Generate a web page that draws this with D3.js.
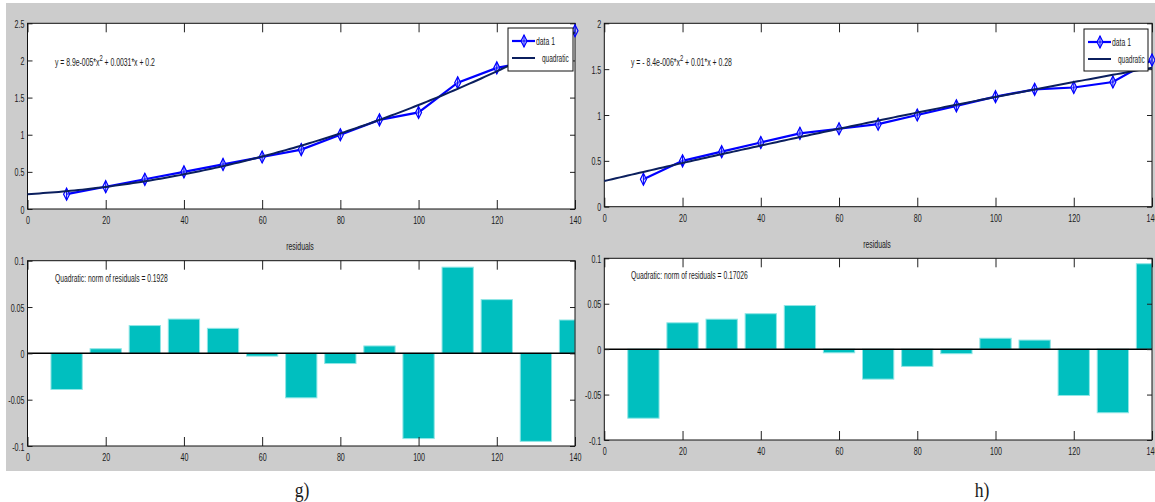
<!DOCTYPE html>
<html>
<head>
<meta charset="utf-8">
<script src="https://cdn.jsdelivr.net/npm/d3@7/dist/d3.min.js"></script>
<style>
  html, body { margin: 0; padding: 0; background: #ffffff; }
  svg { display: block; }
  text { font-family: "Liberation Sans", Arial, sans-serif; fill: #1a1a1a; }
</style>
</head>
<body>
<svg id="chart" width="1155" height="502"></svg>
<script>
// ---- data ----
const xValues = [10, 20, 30, 40, 50, 60, 70, 80, 90, 100, 110, 120, 130, 140];

const dataG = [0.2, 0.3, 0.4, 0.5, 0.6, 0.7, 0.8, 1.0, 1.2, 1.3, 1.7, 1.9, 2.0, 2.4];
const residG = [-0.039, 0.005, 0.030, 0.037, 0.027, -0.003, -0.048, -0.011, 0.008, -0.092, 0.093, 0.058, -0.095, 0.036];
const coefG = [8.9e-5, 0.0031, 0.2];          // quadratic fit: a*x^2 + b*x + c
const eqG = ["y = 8.9e-005*x", "2", " + 0.0031*x + 0.2"];
const normG = "Quadratic: norm of residuals = 0.1928";

const dataH = [0.3, 0.5, 0.6, 0.7, 0.8, 0.85, 0.9, 1.0, 1.1, 1.2, 1.28, 1.3, 1.36, 1.6];
const residH = [-0.076, 0.029, 0.033, 0.039, 0.048, -0.004, -0.033, -0.019, -0.005, 0.012, 0.010, -0.051, -0.070, 0.094];
const coefH = [-8.4e-6, 0.01, 0.28];
const eqH = ["y = - 8.4e-006*x", "2", " + 0.01*x + 0.28"];
const normH = "Quadratic: norm of residuals = 0.17026";

const xTicks = [0, 20, 40, 60, 80, 100, 120, 140];
const yTicksG = [0, 0.5, 1, 1.5, 2, 2.5];
const yTicksH = [0, 0.5, 1, 1.5, 2];
const resTicks = [-0.1, -0.05, 0, 0.05, 0.1];
const legendLabels = ["data 1", "quadratic"];
const captions = ["g)", "h)"];

// ---- drawing ----
const svg = d3.select("#chart");
const NARROW = 0.62;
const BLUE = "#0000ff";
const FIT = "#0b1f5e";
const BAR = "#00bfbf";

svg.append("rect").attr("x", 6).attr("y", 3).attr("width", 1149).attr("height", 468).attr("fill", "#cccccc");

function narrowText(parent, x, y, parts, opt) {
  const g = parent.append("g").attr("transform", `translate(${x},${y})`);
  const t = g.append("text")
    .attr("font-size", opt.size || 11)
    .attr("text-anchor", opt.anchor || "start")
    .attr("dominant-baseline", "central");
  if (typeof parts === "string") {
    t.text(parts);
  } else {
    t.append("tspan").text(parts[0]);
    t.append("tspan").attr("font-size", (opt.size || 11) * 0.85).attr("dy", -5).text(parts[1]);
    t.append("tspan").attr("dy", 5).text(parts[2]);
  }
  let k = opt.k || NARROW;
  if (opt.width) {
    const w = t.node().getBBox().width;
    k = opt.width / w;
  }
  t.attr("transform", `scale(${k},1)`);
  return g;
}

function styleAxis(g, side) {
  g.select(".domain").remove();
  g.selectAll(".tick line").attr("stroke", "#222").attr("stroke-width", 1);
  const txt = g.selectAll(".tick text")
    .attr("font-size", 11.5)
    .attr("fill", "#222")
    .attr("font-family", "Liberation Sans, Arial, sans-serif");
  if (side === "bottom") {
    txt.attr("y", 11).attr("dy", "0.35em").attr("transform", `scale(${NARROW},1)`);
  } else if (side === "left") {
    txt.attr("x", -3 / NARROW).attr("dy", "0.35em").attr("text-anchor", "end")
      .attr("transform", `scale(${NARROW},1)`);
  } else {
    txt.remove();
  }
}

function frame(box, xScale, yScale, yTicks, xTickLen, yTickLen) {
  const g = svg.append("g");
  const fmt = v => String(v);
  g.append("g").attr("transform", `translate(0,${box.y1})`)
    .call(d3.axisBottom(xScale).tickValues(xTicks).tickSize(-xTickLen).tickFormat(fmt))
    .call(a => styleAxis(a, "bottom"));
  g.append("g").attr("transform", `translate(0,${box.y0})`)
    .call(d3.axisTop(xScale).tickValues(xTicks).tickSize(-xTickLen).tickFormat(""))
    .call(a => styleAxis(a, "top"));
  g.append("g").attr("transform", `translate(${box.x0},0)`)
    .call(d3.axisLeft(yScale).tickValues(yTicks).tickSize(-yTickLen).tickFormat(fmt))
    .call(a => styleAxis(a, "left"));
  g.append("g").attr("transform", `translate(${box.x1},0)`)
    .call(d3.axisRight(yScale).tickValues(yTicks).tickSize(-yTickLen).tickFormat(""))
    .call(a => styleAxis(a, "right"));
  g.append("rect")
    .attr("x", box.x0).attr("y", box.y0)
    .attr("width", box.x1 - box.x0).attr("height", box.y1 - box.y0)
    .attr("fill", "none").attr("stroke", "#111").attr("stroke-width", 1);
}

function diamond(sel, cx, cy) {
  sel.append("path")
    .attr("d", `M${cx},${cy - 6}L${cx + 3},${cy}L${cx},${cy + 6}L${cx - 3},${cy}Z`)
    .attr("fill", "#c8d0ff").attr("fill-opacity", 0.5)
    .attr("stroke", BLUE).attr("stroke-width", 1.2);
  sel.append("line")
    .attr("x1", cx).attr("x2", cx).attr("y1", cy - 6).attr("y2", cy + 6)
    .attr("stroke", BLUE).attr("stroke-width", 1);
}

function fitPanel(box, yMax, yTicks, data, coef, eq, eqBox, legBox) {
  const x = d3.scaleLinear().domain([0, 140]).range([box.x0, box.x1]);
  const y = d3.scaleLinear().domain([0, yMax]).range([box.y1, box.y0]);

  svg.append("rect").attr("x", box.x0).attr("y", box.y0)
    .attr("width", box.x1 - box.x0).attr("height", box.y1 - box.y0).attr("fill", "#ffffff");

  frame(box, x, y, yTicks, 9, 5);

  const line = d3.line().x(d => x(d[0])).y(d => y(d[1]));
  const pts = xValues.map((v, i) => [v, data[i]]);
  const gd = svg.append("g");
  gd.append("path").attr("d", line(pts)).attr("fill", "none")
    .attr("stroke", BLUE).attr("stroke-width", 2.2);
  pts.forEach(p => diamond(gd, x(p[0]), y(p[1])));

  const fitPts = d3.range(0, 140.5, 1).map(v => [v, coef[0] * v * v + coef[1] * v + coef[2]]);
  svg.append("path").attr("d", line(fitPts)).attr("fill", "none")
    .attr("stroke", FIT).attr("stroke-width", 2);

  narrowText(svg, eqBox.x, eqBox.y, eq, { size: 11, width: eqBox.w });

  // legend
  const lg = svg.append("g");
  lg.append("rect").attr("x", legBox.x).attr("y", legBox.y)
    .attr("width", legBox.w).attr("height", legBox.h)
    .attr("fill", "#ffffff").attr("stroke", "#111").attr("stroke-width", 1);
  const ly1 = legBox.y + 13, ly2 = legBox.y + 30;
  lg.append("line").attr("x1", legBox.x + 4).attr("x2", legBox.x + 27)
    .attr("y1", ly1).attr("y2", ly1).attr("stroke", BLUE).attr("stroke-width", 2.2);
  diamond(lg, legBox.x + 16, ly1);
  lg.append("line").attr("x1", legBox.x + 4).attr("x2", legBox.x + 27)
    .attr("y1", ly2).attr("y2", ly2).attr("stroke", FIT).attr("stroke-width", 2);
  narrowText(lg, legBox.x + 28, ly1, legendLabels[0], { size: 11, width: 19 });
  narrowText(lg, legBox.x + 34, ly2, legendLabels[1], { size: 11, width: 27 });
}

function residPanel(box, resid, normText, normBox, titleBox) {
  const x = d3.scaleLinear().domain([0, 140]).range([box.x0, box.x1]);
  const y = d3.scaleLinear().domain([-0.1, 0.1]).range([box.y1, box.y0]);
  const band = (x(10) - x(0)) * 0.8;

  svg.append("rect").attr("x", box.x0).attr("y", box.y0)
    .attr("width", box.x1 - box.x0).attr("height", box.y1 - box.y0).attr("fill", "#ffffff");

  svg.append("g").selectAll("rect").data(xValues).join("rect")
    .attr("x", d => x(d) - band / 2)
    .attr("width", d => Math.min(band, box.x1 - (x(d) - band / 2)))
    .attr("y", (d, i) => y(Math.max(0, resid[i])))
    .attr("height", (d, i) => Math.abs(y(resid[i]) - y(0)))
    .attr("fill", BAR).attr("stroke", "#8fe6e6").attr("stroke-width", 1);

  svg.append("line").attr("x1", box.x0).attr("x2", box.x1)
    .attr("y1", y(0)).attr("y2", y(0)).attr("stroke", "#000").attr("stroke-width", 1.5);

  frame(box, x, y, resTicks, 9, 5);

  narrowText(svg, normBox.x, normBox.y, normText, { size: 11, width: normBox.w });
  narrowText(svg, titleBox.x, titleBox.y, "residuals", { size: 11, width: 28, anchor: "middle" });
}

// panel g
fitPanel({ x0: 27.5, x1: 575, y0: 23.3, y1: 209 }, 2.5, yTicksG, dataG, coefG, eqG,
  { x: 55, y: 62, w: 100 }, { x: 508, y: 28, w: 65, h: 43 });
residPanel({ x0: 27.5, x1: 575, y0: 260.7, y1: 446 }, residG, normG,
  { x: 55, y: 278, w: 113 }, { x: 300, y: 246.5 });

// panel h
fitPanel({ x0: 604.3, x1: 1152, y0: 23.3, y1: 206.7 }, 2, yTicksH, dataH, coefH, eqH,
  { x: 631, y: 62, w: 101 }, { x: 1084, y: 29, w: 64, h: 42 });
residPanel({ x0: 604.3, x1: 1152, y0: 258.3, y1: 440 }, residH, normH,
  { x: 631, y: 275, w: 117 }, { x: 877, y: 244 });

// captions
svg.selectAll("g.caption").data(captions).join("g")
  .attr("class", "caption")
  .attr("transform", (d, i) => `translate(${[302, 982][i]},497) scale(0.8,1)`)
  .append("text")
  .attr("text-anchor", "middle")
  .attr("font-size", 22)
  .style("font-family", "Liberation Serif, serif")
  .text(d => d);
</script>
</body>
</html>
